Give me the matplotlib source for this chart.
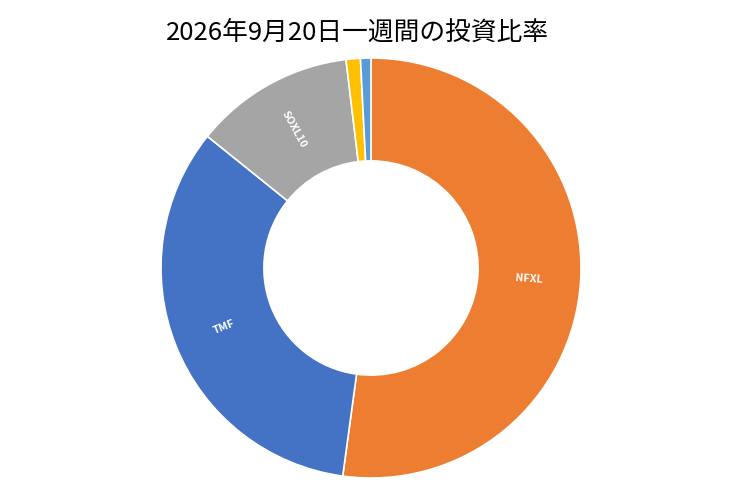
import matplotlib
matplotlib.use('Agg')
import matplotlib.pyplot as plt

plt.rcParams['font.family'] = ['Noto Sans CJK JP', 'DejaVu Sans']

# 投資比率 (%)
labels = ['NFXL', 'TMF', 'SOXL10', '', '']
values = [52.1, 33.6, 12.3, 1.1, 0.8]
colors = ['#ED7D31', '#4472C4', '#A5A5A5', '#FFC000', '#5B9BD5']
title = '2026年9月20日一週間の投資比率'

fig = plt.figure(figsize=(7.4, 4.93), dpi=100)
ax = fig.add_axes([161 / 740, 15 / 493, 420 / 740, 420 / 493])

wedges, texts = ax.pie(values, labels=labels, colors=colors, startangle=90,
                       counterclock=False, labeldistance=0.755, rotatelabels=True,
                       wedgeprops=dict(width=0.49, edgecolor='white', linewidth=1.2),
                       textprops=dict(color='white', fontsize=7.8, fontweight='bold'))
for t in texts:
    t.set_ha('center')
    t.set_va('center')
ax.set_xlim(-1, 1)
ax.set_ylim(-1, 1)
ax.set_aspect('equal')

fig.text(358 / 740, 1 - 33 / 493, title, ha='center', va='center', fontsize=18.5)

fig.savefig('out.png', dpi=100)
